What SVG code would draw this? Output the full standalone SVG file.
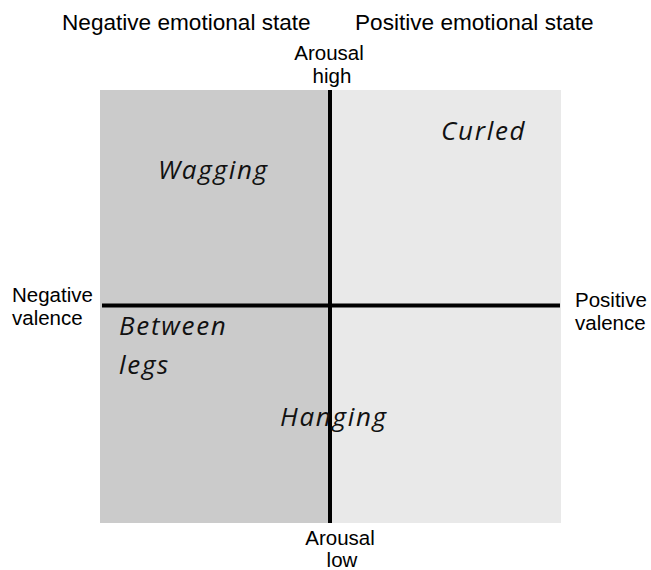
<svg xmlns="http://www.w3.org/2000/svg" width="651" height="570" viewBox="0 0 651 570">
<style>
.lbl{font-family:"Liberation Sans",Arial,sans-serif;font-size:20.5px;fill:#000}
.hdr{font-family:"Liberation Sans",Arial,sans-serif;font-size:22.6px;fill:#000}
.tail{font-family:"Open Sans","DejaVu Sans",sans-serif;font-style:italic;font-size:26px;letter-spacing:1.7px;fill:#111}
.axis{stroke:#000;stroke-width:4;fill:none}
</style>
<rect width="651" height="570" fill="#fff"/>
<g id="quadrant-negative"><rect x="100" y="90" width="230" height="433" fill="#cbcbcb"/></g>
<g id="quadrant-positive"><rect x="330" y="90" width="231" height="433" fill="#e9e9e9"/></g>
<g id="connectors">
<line class="axis" x1="330" y1="90" x2="330" y2="523"/>
<line class="axis" x1="102" y1="305.5" x2="560" y2="305.5"/>
</g>
<g id="header-negative"><text class="hdr" x="62" y="30">Negative emotional state</text></g>
<g id="header-positive"><text class="hdr" x="355" y="30">Positive emotional state</text></g>
<g id="arousal-high"><text class="lbl" text-anchor="middle" x="329" y="60">Arousal</text><text class="lbl" text-anchor="middle" x="332" y="83">high</text></g>
<g id="arousal-low"><text class="lbl" text-anchor="middle" x="340" y="545">Arousal</text><text class="lbl" text-anchor="middle" x="342" y="567">low</text></g>
<g id="negative-valence"><text class="lbl" x="12" y="302">Negative</text><text class="lbl" x="12" y="325">valence</text></g>
<g id="positive-valence"><text class="lbl" x="575" y="307">Positive</text><text class="lbl" x="575" y="330">valence</text></g>
<g id="wagging"><text class="tail" x="158" y="179">Wagging</text></g>
<g id="curled"><text class="tail" x="441" y="140">Curled</text></g>
<g id="between-legs"><text class="tail" x="119" y="335">Between</text><text class="tail" x="119" y="374">legs</text></g>
<g id="hanging"><text class="tail" x="280" y="426">Hanging</text></g>
</svg>
